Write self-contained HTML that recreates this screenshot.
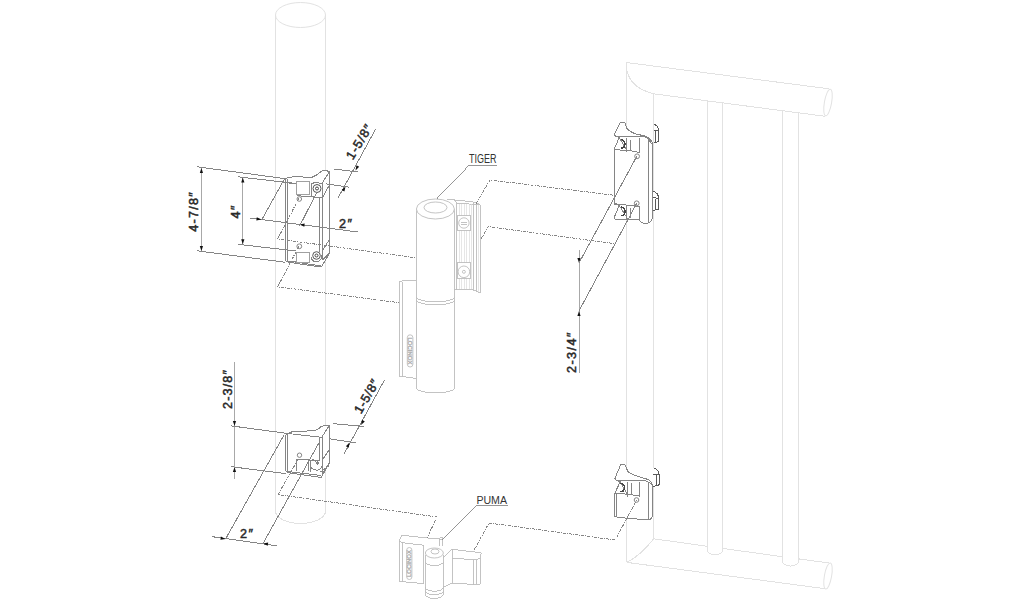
<!DOCTYPE html>
<html><head><meta charset="utf-8">
<style>
html,body{margin:0;padding:0;background:#fff;width:1017px;height:600px;overflow:hidden}
svg{display:block;shape-rendering:crispEdges}
circle,ellipse,rect[rx]{shape-rendering:geometricPrecision}
.lt{fill:none;stroke:#e2e2e2;stroke-width:1}
.dk{fill:none;stroke:#858585;stroke-width:1;stroke-linejoin:round}
.md{fill:none;stroke:#9a9a9a;stroke-width:0.8}
.dim{fill:none;stroke:#858585;stroke-width:1}
.dv{fill:none;stroke:#a8a8a8;stroke-width:1}
.ds{fill:none;stroke:#858585;stroke-width:1;stroke-dasharray:3 1.1 1 1.1;shape-rendering:crispEdges}
.t{font-family:"Liberation Sans",sans-serif;font-weight:normal;fill:#2a2a2a;stroke:#2a2a2a;stroke-width:0.5;font-size:12.6px}
.ti{font-family:"Liberation Sans",sans-serif;font-weight:normal;font-style:italic;fill:#2a2a2a;stroke:#2a2a2a;stroke-width:0.5;font-size:12.6px}
.lbl{font-family:"Liberation Sans",sans-serif;fill:#333;font-size:11px}
.ar{fill:#111;stroke:none;shape-rendering:geometricPrecision}
.tg{fill:none;stroke:#bdbdbd;stroke-width:0.9}
.tf{stroke:#dcdcdc;stroke-width:0.7}
</style></head><body>
<svg width="1017" height="600" viewBox="0 0 1017 600">
<!-- LEFT POLE -->
<g class="lt">
<ellipse cx="300.5" cy="15" rx="25" ry="12.5"/>
<path d="M275.5 15 V511 M325.5 15 V511 M275.5 511 A25 12.5 0 0 0 325.5 511"/>
</g>
<!-- GATE FRAME -->
<g class="lt">
<path d="M626.3 62.5 V562.4 M653.6 93.8 V538.8"/>
<path d="M626.3 62.5 L828.8 88.8 M626.3 64.5 C626.5 78 635 89 653.5 93.8 L825 116.3"/>
<ellipse cx="828" cy="102.5" rx="3.6" ry="13.5" transform="rotate(10 828 102.5)"/>
<path d="M707.5 100.9 V550 A7.5 5 0 0 0 722.5 550 V102.9"/>
<path d="M782.5 110.7 V561 A8 5 0 0 0 798.7 561 V112.8"/>
<path d="M653.7 538.8 L707.5 546.3 M722.5 548.4 L782.5 556.7 M798.7 558.9 L829 563"/>
<path d="M626.9 562.4 L825 588.7 M653.7 538.8 Q640 556 626.9 562.4"/>
<ellipse cx="828" cy="576" rx="3.6" ry="13.3" transform="rotate(10 828 576)"/>
</g>
<!-- TIGER -->
<g class="tg">
<path d="M416.4 209 V388 A19 5 0 0 0 454.4 388 V209"/>
<ellipse cx="435.4" cy="209" rx="19" ry="10" fill="#fff"/>
<ellipse cx="435.5" cy="207.5" rx="11.5" ry="5.5"/>
<path d="M416.4 297 A19 5 0 0 0 454.4 297 M416.4 300 A19 5 0 0 0 454.4 300"/>
<path d="M447.3 199.2 L473 201.9 L480.4 204.7 V292.8 L473 290 L453.8 289"/>
<path d="M456.5 203 V289.5 M473 202 V290 M476.5 203.5 V291.5"/>
<path d="M454 199.8 L456.5 203 L473 204.5 L480.4 204.7"/>
<path class="tf" d="M459 204 V289 M461.5 204 V289 M464 204 V289 M466.5 204 V289 M469 204 V289 M471 204 V289 M478.5 205 V292"/>
<rect x="457.4" y="215.7" width="12.9" height="14.7" fill="#fff"/>
<circle cx="463.9" cy="223" r="5.2"/>
<path d="M460.5 222 Q463.9 224 467.3 222 M461 224.5 H467"/>
<rect x="457.4" y="262.5" width="12.9" height="15.5" fill="#fff"/>
<circle cx="463.9" cy="271.8" r="5.8"/>
<circle cx="463.9" cy="271.8" r="1.5"/>
<path d="M399.2 282 L404 280 L416.4 281 M399.2 282 V376 L416.4 378.5 M402.2 282 V376.5"/>
<rect x="407.3" y="334.8" width="5.6" height="32.2" rx="2.8"/>
<text x="408.3" y="337.5" transform="rotate(90 408.3 337.5)" textLength="27" lengthAdjust="spacingAndGlyphs" style="font-family:'Liberation Sans',sans-serif;font-size:5.5px;fill:none;stroke:#b0b0b0;stroke-width:0.5">LOCINOX</text>
<path d="M469 165.4 H497 M469 165.4 L437 198.5" style="stroke:#8a8a8a"/>
</g>
<!-- PUMA -->
<g class="tg">
<path d="M399.1 541.1 L402 535.3 L424.2 537.6 L441.7 539.3 M399.1 541.1 V581.3 L423.6 583.7 V545.2 L403.2 542.8 L399.1 541.1 M402.6 542 V581.6"/>
<rect x="406.7" y="547.5" width="5.2" height="32" rx="2.6"/>
<text x="410.9" y="577" transform="rotate(-90 410.9 577)" textLength="27" lengthAdjust="spacingAndGlyphs" style="font-family:'Liberation Sans',sans-serif;font-size:5.5px;fill:none;stroke:#b0b0b0;stroke-width:0.5">LOCINOX</text>
<path d="M425.3 555 V594 A9 4.5 0 0 0 443.4 594 V555"/>
<ellipse cx="434.35" cy="553" rx="9" ry="5" fill="#fff"/>
<ellipse cx="435" cy="551.5" rx="4" ry="2.5"/>
<path d="M425.3 561.5 A9 4 0 0 0 443.4 561.5 M425.3 587.2 A9 4 0 0 0 443.4 587.2 M425.3 590.7 A9 4 0 0 0 443.4 590.7"/>
<path d="M439.3 546.3 L440 538 L442 537 L442.5 546"/>
<path d="M443.4 557.4 L452.2 549.3 L481.3 552.8 L480.2 558.6 V584 L473.8 584.5 L452.2 583 L443.4 587"/>
<path d="M452.2 549.3 V583 M452.2 558 L473.8 559.8 L480.2 558.6 M473.8 559.8 V584.5 M476.5 559.5 V584.3"/>
<path d="M476.4 505.4 H507.5 M476.4 505.4 L442 539.5" style="stroke:#8a8a8a"/>
</g>
<!-- H1 top-left plate -->
<g class="dk">
<path fill="#fff" d="M285.7 260 V179.3 Q286 177.8 288.7 177.7 L294 176.7 L312 177.3 Q317 175.5 321 171.5 Q325 169.5 329.3 171.7 V253.7 L321.3 267 L290 262.5 Q285.7 262 285.7 260 Z"/>
<path d="M287.3 179 V260.5 Q287.5 262 289 262.3"/>
<path d="M329.3 171.7 L321.7 184"/>
<path d="M288.7 183 L296.3 184"/>
<path style="stroke:#a0a0a0" d="M296.3 181.7 V194.3 H309.3 V181.7 Z"/>
<path d="M311.5 184 Q313 182.5 318 182.5 L322 184 M311.5 184 V196"/>
<circle cx="317" cy="188.5" r="4" style="stroke:#555"/><circle cx="317" cy="188.5" r="1.5" style="stroke:#444"/>
<circle cx="299.3" cy="199" r="2.3"/>
<path d="M296.7 195.7 L322.3 197.7 L328.7 186.3"/>
<path d="M319.7 198 V252.3 M322.3 184 V260.3"/>
<path d="M322.5 250.3 L329 240.3 M322.3 260.3 L329 253.7 M289 261 L321.3 266"/>
<circle cx="299.3" cy="246.3" r="2.4"/>
<path style="stroke:#a0a0a0" d="M296.3 252 V262.7 H309 V252 Z"/>
<path d="M311 257.5 A5.3 5.3 0 0 0 321.5 255.5"/><circle cx="316.5" cy="255.5" r="3.8" style="stroke:#555"/><circle cx="316.5" cy="255.5" r="1.5" style="stroke:#444"/>

</g>
<!-- H2 bottom-left plate -->
<g class="dk">
<path fill="#fff" d="M285.4 469 V437 Q285.5 434 288 433.5 L293 431.4 L314.7 430.8 Q318.5 429.5 321.2 426.5 Q324 425 329.3 425.4 Q329.8 426 329.8 427 V462.3 L321.2 477.4 L289.7 473 Q285.4 472 285.4 469 Z"/>
<path d="M287.4 434 V472"/>
<path d="M288 433.5 L321.7 437.3 L329.3 425.4"/>
<path d="M319.5 437.3 V460 M322.3 437.3 V474"/>
<circle cx="299.5" cy="455.2" r="2.2"/>
<path d="M296.8 470.9 V459 L308.2 459.5 V471"/>
<path d="M310.3 471.5 V460 L320 460.5"/>
<path d="M314 459 A5.4 5.4 0 0 0 314.5 469.5 A5.4 5.4 0 0 0 322.3 464"/>
<path d="M315.5 461.5 L318 465 M317 461 L319.3 464.5"/>
<path d="M322.3 460 L329.8 449"/>
<path d="M322.3 474 L329.8 462.3 M320.5 472 L328.5 466"/>
<path d="M286 471.3 L321 475.5"/>
</g>
<!-- G1 gate top hinge -->
<g class="dk">
<path fill="#fff" d="M614.2 134.6 L620.4 122.5 L625 122.9 Q626 127 627 128.5 Q630 132 636.7 134.2 L644.2 135.8 Q649 137 652.5 142.5 V217.5 Q651.5 222.5 647.5 223.3 L641.7 222.9 L639.2 220 L615 219.2 L614.2 217.5 L619.2 205.4 L614.2 204 V149.2 L619.2 137.5 L615.8 136.3 Z"/>
<path d="M614.2 134.6 Q614.5 136.3 615.8 136.3 L645 137 Q648.3 138 652.5 145"/>

<path d="M614.2 149.2 L619.2 137.5 L626.7 150 L639.2 152.5"/>
<path d="M614.2 149.2 L626.7 150.8"/>
<path d="M626.7 138.3 V151.7 M639.2 138.3 V152.5"/>
<path style="stroke:#444;stroke-width:1.5" d="M621 139.5 Q625 140.5 625 144.5 Q624.5 148.5 621 148" />
<path d="M630.3 140 V150"/>
<circle cx="637.1" cy="156.3" r="2.4"/>
<path d="M652.5 142.5 V217.5 Q651.5 222.5 647.5 223.3 L641.7 222.9 L639.2 220 L615 219.2 L614.2 216.7"/>
<path d="M648.3 140 V222.9"/>
<path d="M614.6 203.8 L639.2 206.3 M626.7 206 V220 M639.2 206.3 V220"/>
<path d="M619.2 205.4 L628 219.5"/>
<path style="stroke:#444;stroke-width:1.5" d="M621 207 Q625 208 625 212 Q624.5 216 621 215.5" />
<path d="M630.3 208 V218"/>
<circle cx="636.7" cy="203.3" r="2.4"/>
<path fill="#fff" style="stroke:#5a5a5a" d="M653.8 124.2 C656.5 125 658.5 127.5 658.5 131 V141.7 L653.8 142.9 M653.8 130 L658 130.8 M655.8 131 V142"/>
<path fill="#fff" style="stroke:#5a5a5a" d="M652.9 191.3 C656 192 658.5 194.5 658.5 198.5 V209.2 L652.9 210.4 M652.9 197.5 L658 198.3 M655.5 198.5 V209.8"/>
</g>
<!-- G2 gate bottom hinge -->
<g class="dk">
<path fill="#fff" d="M614.9 478.4 L620.8 464.4 L624.8 464.4 Q626.5 468 627.8 471.4 Q630.5 474 635.3 475.5 L644.7 478.4 Q650 480 651.1 481.9 L652.9 486 V515 Q652.3 519 648.2 519.9 L619 517.5 L614.9 516.4 V493 L620.2 481.9 L616.1 480.2 Z"/>
<path d="M614.9 478.4 L616.1 480.2 L645.9 480.8 Q650 482 652.9 486"/>
<path d="M614.9 493 L620.2 481.9 L627.2 494.2 L638.9 495.9 M614.9 493 L627.2 494.2"/>
<path d="M627.2 481.9 V496.5 M639.4 481.9 V496.5 M631 483 V494"/>
<path style="stroke:#444;stroke-width:1.5" d="M620.5 483 Q624.5 484 624.5 488 Q624 492 620.5 491.5" />
<circle cx="636.5" cy="500" r="2.3"/>
<path d="M616.7 494 V516.5 M648.8 483 V520"/>
<path fill="#fff" style="stroke:#5a5a5a" d="M653.4 467.9 C656.5 468.8 659.2 471 659.2 475 V484.8 L653.4 486.6 M653.4 474 L658.8 474.8 M656 475 V486"/>
</g>
<path class="dv" d="M201.4 168.0 L201.4 251.0"/>
<polygon class="ar" points="201.4,168.0 203.0,173.0 199.8,173.0"/>
<polygon class="ar" points="201.4,251.0 199.8,246.0 203.0,246.0"/>
<path class="dim" d="M197.0 166.8 L285.5 178.7"/>
<path class="dim" d="M197.0 250.8 L285.5 262.3"/>
<path class="dv" d="M242.8 177.5 L242.8 244.3"/>
<polygon class="ar" points="242.8,177.5 244.4,182.5 241.2,182.5"/>
<polygon class="ar" points="242.8,244.3 241.2,239.3 244.4,239.3"/>
<path class="dim" d="M238.0 176.8 L296.0 183.5"/>
<path class="dim" d="M238.0 244.3 L296.0 251.0"/>
<path class="dim" d="M249.5 218.0 L358.0 232.0"/>
<polygon class="ar" points="261.5,219.6 256.3,220.5 256.8,217.3"/>
<polygon class="ar" points="299.5,224.5 304.7,223.5 304.3,226.7"/>
<path class="dim" d="M261.5 220.3 L285.0 178.0"/>
<path class="dim" d="M299.5 226.3 L317.0 192.0"/>
<path class="dim" d="M375.8 128.7 L338.3 197.5"/>
<polygon class="ar" points="355.5,170.5 356.4,165.3 359.2,166.8"/>
<polygon class="ar" points="345.5,186.5 344.4,191.6 341.6,190.0"/>
<path class="dim" d="M334.0 169.0 L358.0 172.0"/>
<path class="dim" d="M326.0 183.8 L349.0 187.2"/>
<path class="dv" d="M579.0 250.0 L579.0 373.0"/>
<polygon class="ar" points="579.0,263.0 577.4,258.0 580.6,258.0"/>
<polygon class="ar" points="579.0,311.0 580.6,316.0 577.4,316.0"/>
<path class="dim" d="M637.0 156.0 L579.0 263.0"/>
<path class="dim" d="M636.7 203.3 L579.0 311.0"/>
<path class="dv" d="M234.5 362.0 L234.5 479.4"/>
<polygon class="ar" points="234.5,426.0 232.9,421.0 236.1,421.0"/>
<polygon class="ar" points="234.5,467.0 236.1,472.0 232.9,472.0"/>
<path class="dim" d="M230.5 425.8 L288.0 433.5"/>
<path class="dim" d="M230.5 466.6 L285.5 473.6"/>
<path class="dim" d="M384.5 380.0 L344.0 454.0"/>
<polygon class="ar" points="361.0,425.0 362.0,419.8 364.8,421.4"/>
<polygon class="ar" points="349.5,442.5 348.8,447.7 345.9,446.3"/>
<path class="dim" d="M333.0 423.6 L364.0 426.5"/>
<path class="dim" d="M329.8 438.8 L356.0 443.0"/>
<path class="dim" d="M211.7 536.6 L277.0 545.9"/>
<polygon class="ar" points="225.6,538.9 220.4,539.8 220.9,536.6"/>
<polygon class="ar" points="263.0,543.5 268.2,542.6 267.7,545.8"/>
<path class="dim" d="M225.6 538.9 L284.0 435.0"/>
<path class="dim" d="M263.0 543.5 L320.0 441.0"/>
<path class="ds" d="M299.0 198.0 L277.7 239.0 L416.0 257.8"/>
<path class="ds" d="M299.0 246.0 L277.7 286.8 L399.0 302.7"/>
<path class="ds" d="M476.0 203.6 L490.0 180.0 L614.0 195.2"/>
<path class="ds" d="M481.0 239.0 L488.3 226.6 L614.0 243.6"/>
<path class="ds" d="M298.0 459.6 L278.0 494.6 L437.0 517.0 L427.0 538.0"/>
<path class="ds" d="M474.0 550.0 L489.0 523.0 L615.3 540.0 L636.7 500.0"/>
<text class="t" x="197.6" y="231.8" text-anchor="start" textLength="39.5" lengthAdjust="spacing" transform="rotate(-90 197.6 231.8)">4-7/8&#8243;</text>
<text class="t" x="240.2" y="218.5" text-anchor="start" textLength="13" lengthAdjust="spacing" transform="rotate(-90 240.2 218.5)">4&#8243;</text>
<text class="t" x="576" y="373" text-anchor="start" textLength="40.5" lengthAdjust="spacing" transform="rotate(-90 576 373)">2-3/4&#8243;</text>
<text class="t" x="231.8" y="409" text-anchor="start" textLength="39" lengthAdjust="spacing" transform="rotate(-90 231.8 409)">2-3/8&#8243;</text>
<text class="t" x="362.8" y="144.2" text-anchor="middle" textLength="38" lengthAdjust="spacing" transform="rotate(-58.5 362.8 144.2)">1-5/8&#8243;</text>
<text class="t" x="370.3" y="398.6" text-anchor="middle" textLength="37" lengthAdjust="spacing" transform="rotate(-60 370.3 398.6)">1-5/8&#8243;</text>
<text class="t" x="338.9" y="228.3" text-anchor="start" textLength="13.1" lengthAdjust="spacing" transform="rotate(0 338.9 228.3)">2&#8243;</text>
<text class="t" x="240.1" y="538" text-anchor="start" textLength="12.9" lengthAdjust="spacing" transform="rotate(0 240.1 538)">2&#8243;</text>
<text class="lbl" x="469" y="163.3" textLength="27.5" lengthAdjust="spacingAndGlyphs" style="font-size:12px">TIGER</text>
<text class="lbl" x="476.4" y="503.6" textLength="30.6" lengthAdjust="spacingAndGlyphs">PUMA</text>
</svg>
</body></html>
